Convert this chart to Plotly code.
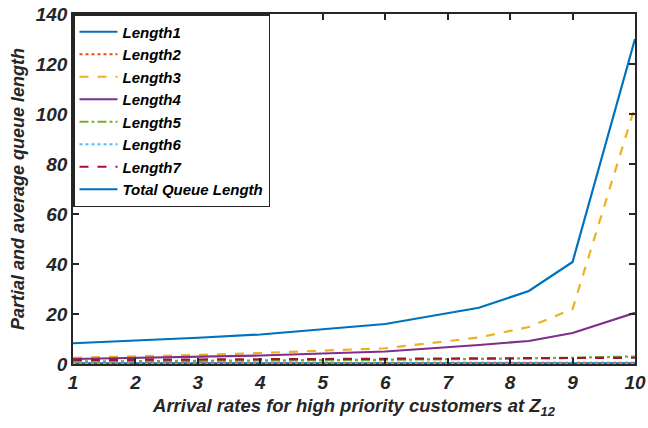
import plotly.graph_objects as go

# Arrival rates for high priority customers at Z12
arrival_rates = [1, 2, 3, 4, 5, 6, 7.5, 8.3, 9, 10]

# Partial queue lengths per station and the total
length1 = [0.3, 0.3, 0.3, 0.3, 0.3, 0.3, 0.3, 0.3, 0.3, 0.3]
length2 = [0.5, 0.5, 0.5, 0.5, 0.5, 0.5, 0.5, 0.5, 0.5, 0.5]
length3 = [2.5, 3.0, 3.6, 4.4, 5.3, 6.3, 10.6, 14.8, 22.0, 103.0]
length4 = [2.0, 2.4, 2.8, 3.4, 4.2, 5.0, 7.6, 9.2, 12.4, 20.5]
length5 = [1.0, 1.1, 1.2, 1.3, 1.5, 1.7, 2.0, 2.2, 2.5, 3.0]
length6 = [0.1, 0.1, 0.1, 0.1, 0.1, 0.1, 0.1, 0.1, 0.1, 0.1]
length7 = [1.6, 1.7, 1.8, 1.9, 2.0, 2.1, 2.2, 2.3, 2.3, 2.5]
total_length = [8.3, 9.3, 10.5, 11.8, 13.8, 16.0, 22.5, 29.2, 40.8, 130.0]

series_names = ["Length1", "Length2", "Length3", "Length4", "Length5",
                "Length6", "Length7", "Total Queue Length"]
series_values = [length1, length2, length3, length4, length5,
                 length6, length7, total_length]
colors = ["#0072BD", "#D95319", "#EDB120", "#7E2F8E", "#77AC30",
          "#4DBEEE", "#A2142F", "#0072BD"]
dashes = ["solid", "dot", "dash", "solid", "dashdot", "dot", "dash", "solid"]

FONT = "Arial, Liberation Sans, sans-serif"

fig = go.Figure()
for name, vals, col, dash in zip(series_names, series_values, colors, dashes):
    fig.add_trace(go.Scatter(
        x=arrival_rates, y=vals, name=name, mode="lines",
        line=dict(color=col, width=2.2, dash=dash),
    ))

axis_common = dict(
    showline=True, linecolor="#262626", linewidth=1.5, mirror="ticks",
    ticks="inside", ticklen=6, tickwidth=1.5, tickcolor="#262626",
    showgrid=False, zeroline=False, automargin=False,
    tickfont=dict(family=FONT, size=19, color="#262626",
                  weight="bold", style="italic"),
)

fig.update_layout(
    width=648, height=428,
    margin=dict(l=73, r=13, t=14, b=64),
    paper_bgcolor="white", plot_bgcolor="white",
    xaxis=dict(range=[1, 10], tickvals=list(range(1, 11)),
               title=dict(text="Arrival rates for high priority customers at Z<sub>12</sub>",
                          font=dict(family=FONT, size=18.5, color="#262626",
                                    weight="bold", style="italic"),
                          standoff=8),
               **axis_common),
    yaxis=dict(range=[0, 140], tickvals=list(range(0, 141, 20)),
               title=dict(text="Partial and average queue length",
                          font=dict(family=FONT, size=18, color="#262626",
                                    weight="bold", style="italic"),
                          standoff=6),
               **axis_common),
    legend=dict(
        x=0, y=1, xanchor="left", yanchor="top",
        bgcolor="white", bordercolor="#262626", borderwidth=1.5,
        font=dict(family=FONT, size=15, color="black",
                  weight="bold", style="italic"),
        tracegroupgap=0, itemwidth=38,
    ),
    showlegend=True,
)

fig.write_html("out.html")
